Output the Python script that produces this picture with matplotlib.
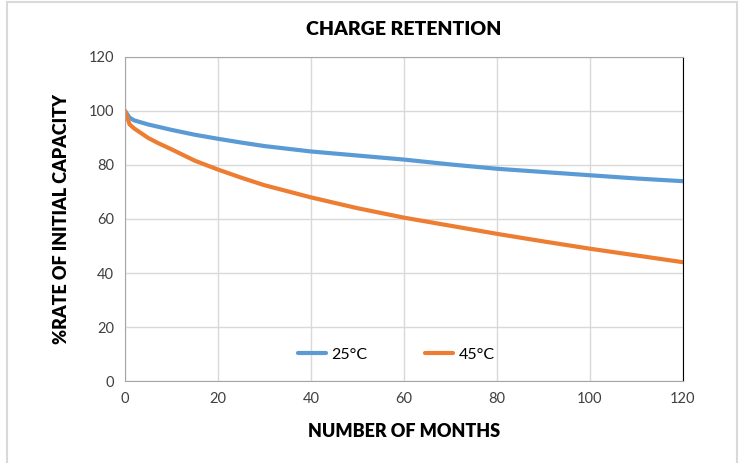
import matplotlib.pyplot as plt
from matplotlib.patches import Rectangle

plt.rcParams['font.family'] = ['Lato', 'DejaVu Sans']

# === data ===
months = [0, 1, 2, 5, 7, 10, 15, 20, 25, 30, 40, 50, 60, 70, 80, 90, 100, 110, 120]
cap_25 = [100, 97.5, 96.5, 95, 94.2, 93, 91.2, 89.7, 88.3, 87, 85, 83.5, 82, 80.2, 78.6, 77.4, 76.2, 75, 74]
cap_45 = [100, 95, 93.5, 90, 88.2, 85.8, 81.6, 78.3, 75.3, 72.5, 68, 64, 60.5, 57.5, 54.5, 51.7, 49, 46.5, 44]
series_labels = ["25\u00b0C", "45\u00b0C"]
xticks = [0, 20, 40, 60, 80, 100, 120]
yticks = [0, 20, 40, 60, 80, 100, 120]

fig = plt.figure(figsize=(7.44, 4.63), dpi=100)
ax = fig.add_axes([0.168, 0.177, 0.750, 0.700])

# gray frame around the whole chart
fig.patches.append(Rectangle((0.010, -0.01), 0.981, 1.005, transform=fig.transFigure,
                             fill=False, edgecolor='#d9d9d9', linewidth=1.5))

ax.plot(months, cap_25, color='#5b9bd5', lw=3, label=series_labels[0], solid_capstyle='round')
ax.plot(months, cap_45, color='#ed7d31', lw=3, label=series_labels[1], solid_capstyle='round')

ax.set_xlim(0, 120)
ax.set_ylim(0, 120)
ax.set_xticks(xticks)
ax.set_yticks(yticks)
ax.grid(True, color='#d9d9d9', lw=1)
ax.set_axisbelow(True)
ax.tick_params(length=0, labelsize=10.5, colors='#404040', pad=8)

for s in ['left', 'bottom', 'top']:
    ax.spines[s].set_color('#a6a6a6')
ax.spines['right'].set_color('black')

ax.set_title("CHARGE RETENTION", fontsize=14, fontweight='heavy', pad=16, color='black')
ax.set_xlabel("NUMBER OF MONTHS", fontsize=13, fontweight='heavy', labelpad=12)
ax.set_ylabel("%RATE OF INITIAL CAPACITY", fontsize=13, fontweight='heavy', labelpad=13)

ax.legend(loc='center', bbox_to_anchor=(0.486, 0.082), ncol=2, frameon=False,
          fontsize=11.5, handlelength=1.75, columnspacing=3.6, handletextpad=0.35)

plt.savefig("out.png", dpi=100)
